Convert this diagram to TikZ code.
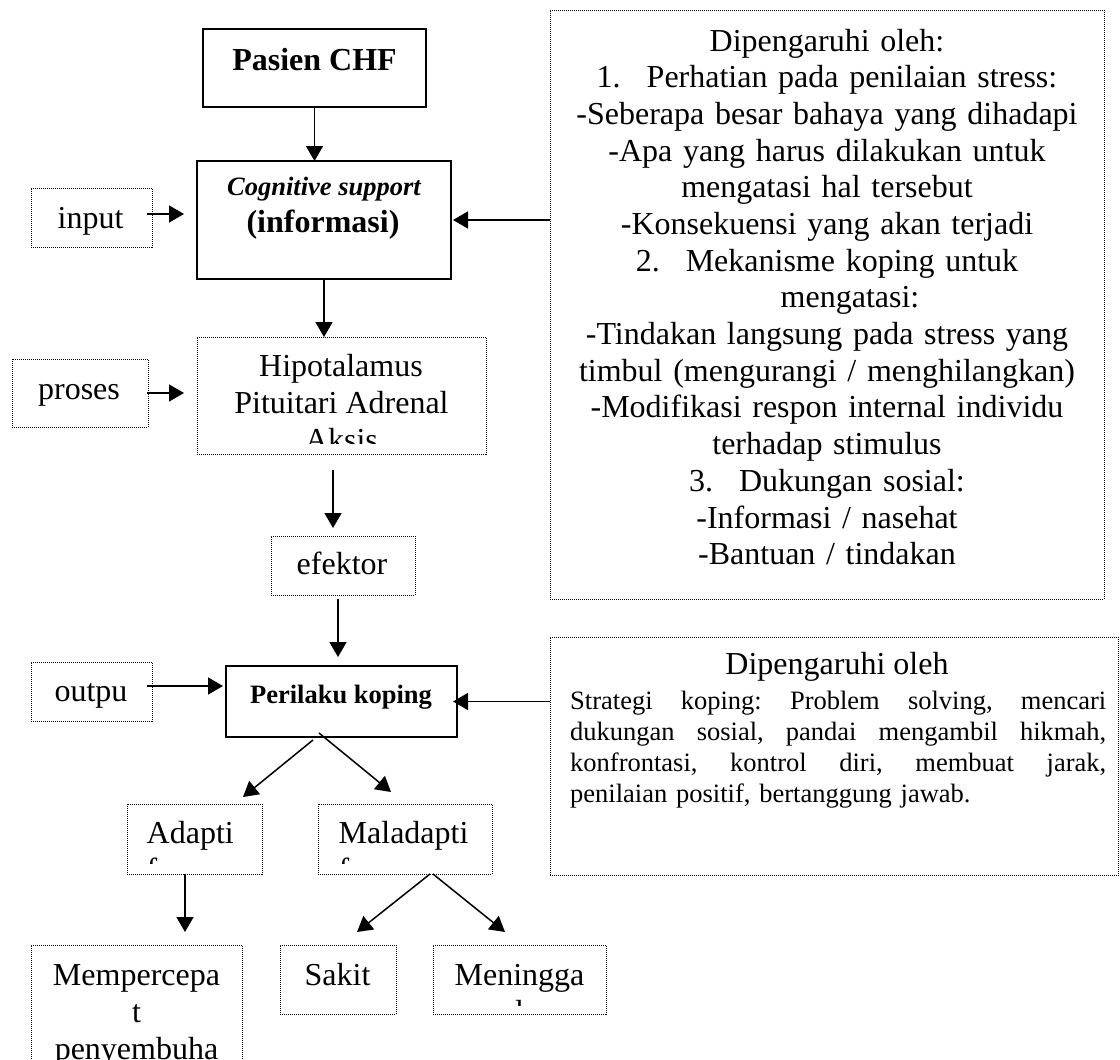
\documentclass[tikz,border=0pt]{standalone}
\usepackage{fontspec}
\setmainfont{Liberation Serif}
\usetikzlibrary{arrows.meta,fit}
\begin{document}
\begin{tikzpicture}[x=1pt,y=-1pt,
  solidbox/.style={draw, line width=2pt, inner sep=0pt, outer sep=0pt},
  dotbox/.style={draw, line width=1pt, dash pattern=on 1pt off 1pt, inner sep=0pt, outer sep=0pt},
  arr/.style={line width=1.5pt, -{Triangle[length=15pt,width=17pt]}},
  big/.style={inner sep=0pt, font=\fontsize{32}{36.7}\selectfont},
  bigbold/.style={inner sep=0pt, font=\fontsize{32}{36.7}\selectfont\bfseries},
  smallbold/.style={inner sep=0pt, font=\fontsize{26.5}{31}\selectfont\bfseries},
  smallbi/.style={inner sep=0pt, font=\fontsize{26.5}{31}\selectfont\bfseries\itshape},
  smallreg/.style={inner sep=0pt, font=\fontsize{26.5}{31}\selectfont},
]
\useasboundingbox (0,0) rectangle (1120,1060);
\clip (0,0) rectangle (1120,1060);

% boxes
\node[solidbox, fit={(203,29) (426,107)}] (pasien) {};
\node[solidbox, fit={(197,161) (451,279)}] (cog) {};
\node[dotbox, fit={(31,188) (152,247)}] (input) {};
\node[dotbox, fit={(197,337) (486,454)}] (hipo) {};
\node[dotbox, fit={(12,359) (148,427)}] (proses) {};
\node[dotbox, fit={(271,536) (415,595)}] (efektor) {};
\node[solidbox, fit={(226,666) (457,737)}] (perilaku) {};
\node[dotbox, fit={(31,662) (152,721)}] (outpu) {};
\node[dotbox, fit={(127,804) (262,874)}] (adapt) {};
\node[dotbox, fit={(318,804) (492,874)}] (maladapt) {};
\node[dotbox, fit={(31,945) (242,1090)}] (memp) {};
\node[dotbox, fit={(280,945) (396,1014)}] (sakit) {};
\node[dotbox, fit={(433,945) (606,1014)}] (mening) {};
\node[dotbox, fit={(550,10) (1104,599)}] (box1) {};
\node[dotbox, fit={(550,637) (1118.5,875)}] (box2) {};

% texts
\node[bigbold, anchor=base] (tpasien) at (314.5,70) {Pasien CHF};
\node[smallbi, anchor=base] (tcog1) at (324,195) {Cognitive support};
\node[bigbold, anchor=base] (tcog2) at (323,232) {(informasi)};
\node[big, anchor=base] (tinput) at (90.5,228) {input};
\node[big, anchor=base] (tproses) at (79,399) {proses};
\begin{scope}
  \clip (hipo.north west) rectangle ([yshift=11pt]hipo.south east);
  \node[big, anchor=base] (th1) at (341,376) {Hipotalamus};
  \node[big, anchor=base] (th2) at (341.5,413) {Pituitari Adrenal};
  \node[big, anchor=base] (th3) at (341.5,450) {Aksis};
\end{scope}
\node[big, anchor=base] (tefektor) at (342,574) {efektor};
\node[big, anchor=base] (toutpu) at (91,701) {outpu};
\node[smallbold, anchor=base] (tperilaku) at (341,703) {Perilaku koping};
\begin{scope}
  \clip (adapt.north west) rectangle ([yshift=11pt]adapt.south east);
  \node[big, anchor=base west] (ta1) at (146.5,843) {Adapti};
  \node[big, anchor=base west] (ta2) at (146.5,880) {f};
\end{scope}
\begin{scope}
  \clip (maladapt.north west) rectangle ([yshift=11pt]maladapt.south east);
  \node[big, anchor=base west] (tm1) at (338.5,843) {Maladapti};
  \node[big, anchor=base west] (tm2) at (338.5,880) {f};
\end{scope}
\node[big, anchor=base] (tp1) at (136.5,985) {Mempercepa};
\node[big, anchor=base] (tp2) at (136.5,1022) {t};
\node[big, anchor=base] (tp3) at (136.5,1059) {penyembuha};
\node[big, anchor=base] (ts) at (337.5,985) {Sakit};
\begin{scope}
  \clip (mening.north west) rectangle ([yshift=9pt]mening.south east);
  \node[big, anchor=base] (tn1) at (519.5,985) {Meningga};
  \node[big, anchor=base] (tn2) at (519.5,1022) {l};
\end{scope}

\node[big, anchor=base, text width=540pt, align=center] (tb1) at (827,51) {%
Dipengaruhi oleh:\\
1.\hspace{26pt}Perhatian pada penilaian stress:\\
-Seberapa besar bahaya yang dihadapi\\
-Apa yang harus dilakukan untuk\\
mengatasi hal tersebut\\
-Konsekuensi yang akan terjadi\\
2.\hspace{26pt}Mekanisme koping untuk\\
\hspace*{46pt}mengatasi:\\
-Tindakan langsung pada stress yang\\
timbul (mengurangi / menghilangkan)\\
-Modifikasi respon internal individu\\
terhadap stimulus\\
3.\hspace{26pt}Dukungan sosial:\\
-Informasi / nasehat\\
-Bantuan / tindakan};

\node[big, anchor=base] (tb2t) at (837,674) {Dipengaruhi oleh};
\node[smallreg, anchor=base west, text width=536pt, align=left] (tb2) at (570,709) {%
\makebox[536pt][s]{Strategi\hfill koping:\hfill Problem\hfill solving,\hfill mencari}\\
\makebox[536pt][s]{dukungan\hfill sosial,\hfill pandai\hfill mengambil\hfill hikmah,}\\
\makebox[536pt][s]{konfrontasi,\hfill kontrol\hfill diri,\hfill membuat\hfill jarak,}\\
penilaian positif, bertanggung jawab.};

% connectors
\coordinate (ia) at ([yshift=3.5pt]input.east);
\coordinate (oa) at ([yshift=5.5pt]outpu.east);
\coordinate (ha) at ([xshift=-8.5pt]hipo.south);
\coordinate (ea) at ([xshift=-5pt]efektor.south);
\draw[arr] (pasien.south) -- (pasien.south |- cog.north);
\draw[arr, shorten <=-5pt, shorten >=13pt] (ia) -- (ia -| cog.west);
\draw[arr, shorten >=2pt] (box1.west |- cog.east) -- (cog.east);
\draw[arr] (cog.south) -- (cog.south |- hipo.north);
\draw[arr, shorten <=-1pt, shorten >=13pt] (proses.east) -- (proses.east -| hipo.west);
\draw[arr, shorten <=16pt, shorten >=8pt] (ha) -- (ha |- efektor.north);
\draw[arr, shorten <=4pt, shorten >=9pt] (ea) -- (ea |- perilaku.north);
\draw[arr, shorten <=-5pt, shorten >=3pt] (oa) -- (oa -| perilaku.west);
\draw[arr, shorten >=-4pt] (box2.west |- perilaku.east) -- (perilaku.east);
\draw[arr] ([xshift=-28.5pt,yshift=-3pt]perilaku.south) -- ([xshift=48.5pt,yshift=7pt]adapt.north);
\draw[arr] ([xshift=-22.5pt,yshift=4pt]perilaku.south) -- ([xshift=-14pt,yshift=12pt]maladapt.north);
\draw[arr] ([xshift=-9.5pt]adapt.south) -- ([xshift=48.5pt,yshift=13pt]memp.north);
\draw[arr] ([xshift=25pt]maladapt.south) -- ([xshift=19pt,yshift=13pt]sakit.north);
\draw[arr] ([xshift=28pt]maladapt.south) -- ([xshift=-14.5pt,yshift=13pt]mening.north);
\end{tikzpicture}
\end{document}
